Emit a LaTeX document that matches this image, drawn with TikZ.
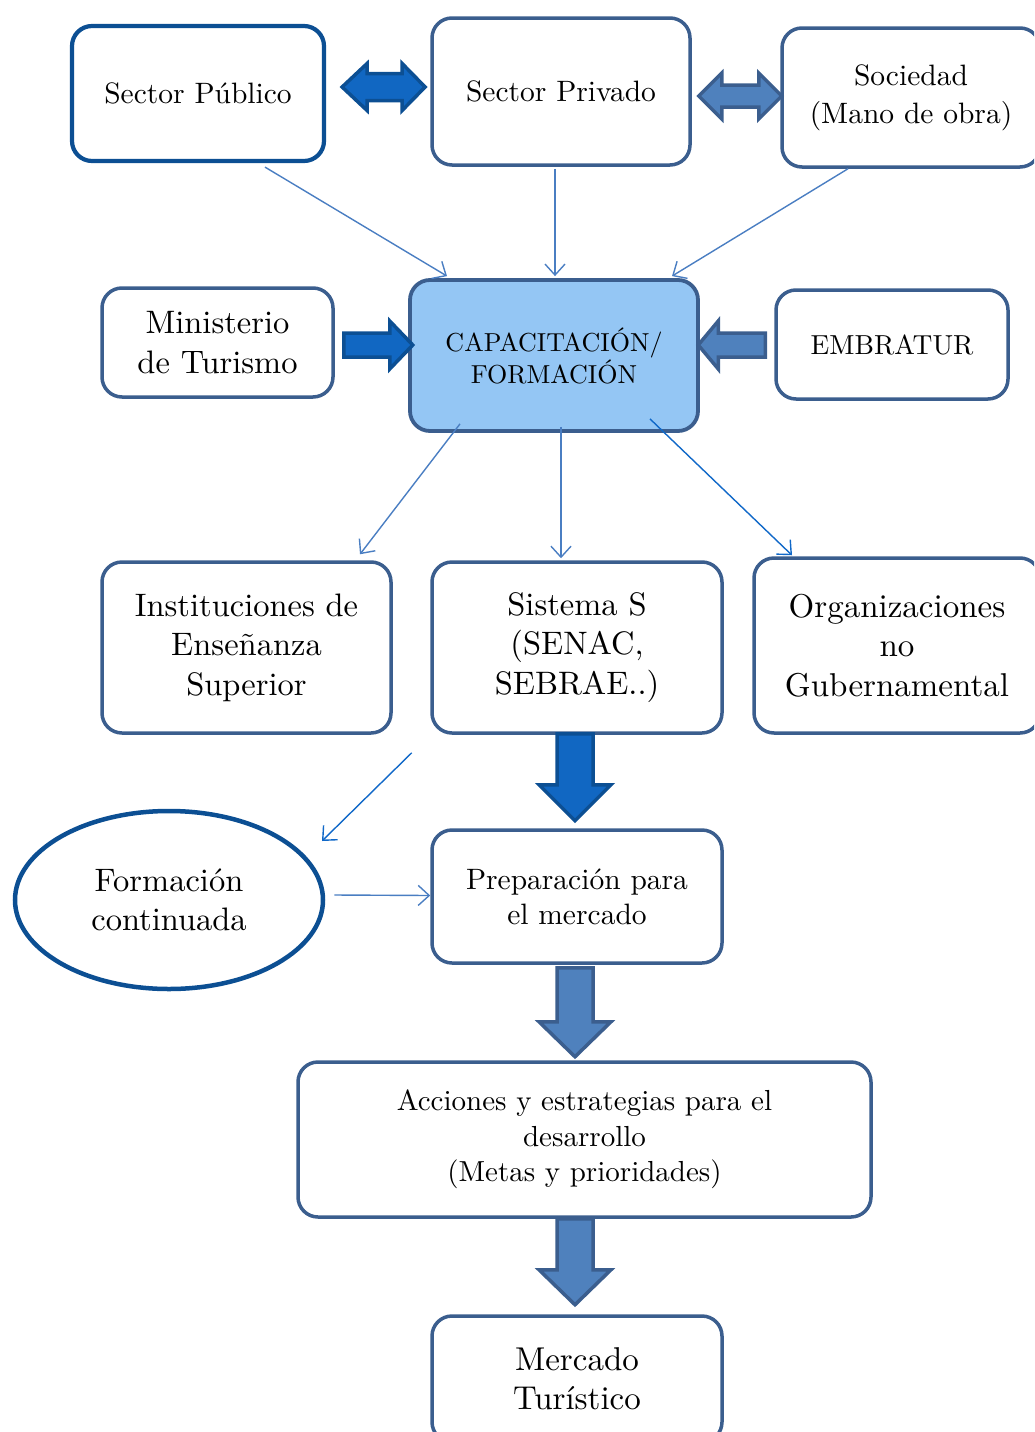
\documentclass[tikz,border=0pt]{standalone}
\usepackage{fontspec}
\setmainfont{lmroman10-regular.otf}
\usetikzlibrary{arrows.meta,shapes.geometric}
\definecolor{boxc}{HTML}{3B5E8E}
\definecolor{darkc}{HTML}{0C4F93}
\definecolor{darkfill}{HTML}{1167C2}
\definecolor{mutedfill}{HTML}{4F81BD}
\definecolor{lightfill}{HTML}{94C6F4}
\definecolor{linec}{HTML}{4A7EC2}
\definecolor{linebright}{HTML}{1068C8}
\tikzset{
  box/.style={draw=boxc, line width=3.5pt, rounded corners=20pt, fill=white,
    align=center, inner sep=0pt, text=black},
  darkbox/.style={box, draw=darkc, line width=4.2pt},
  conn/.style={draw=linec, line width=1.4pt, -{Straight Barb[length=11pt,width=20pt]}},
  connb/.style={conn, draw=linebright},
  darkarrow/.style={draw=darkc, fill=darkfill, line width=3.5pt, line join=miter},
  mutedarrow/.style={draw=boxc, fill=mutedfill, line width=3.5pt, line join=miter},
  fA/.style={font=\fontsize{29.5}{38}\selectfont},
  fB/.style={font=\fontsize{32.5}{39.5}\selectfont},
  fC/.style={font=\fontsize{26}{32}\selectfont},
  fD/.style={font=\fontsize{29}{35.5}\selectfont},
}
\begin{document}
\begin{tikzpicture}[x=1pt,y=-1pt]
\useasboundingbox (0,0) rectangle (1034,1432);
\clip (0,0) rectangle (1034,1432);

% top row
\node[darkbox, fA, minimum width=252pt, minimum height=135pt] (pub) at (198,93.5) {Sector Público};
\node[box, fA, minimum width=258pt, minimum height=147pt] (priv) at (561,91.5) {Sector Privado};
\node[box, fA, minimum width=258pt, minimum height=139pt] (soc) at (911,97.5) {Sociedad\\(Mano de obra)};

% second row
\node[box, fB, minimum width=231pt, minimum height=109pt] (min) at (217.5,342.5) {Ministerio\\de Turismo};
\node[box, fC, fill=lightfill, line width=3.8pt, minimum width=288pt, minimum height=151pt] (cap) at (554,355.5) {CAPACITACIÓN/\\FORMACIÓN};
\node[box, font=\fontsize{27.5}{34}\selectfont, minimum width=232pt, minimum height=109pt] (emb) at (892,344.5) {EMBRATUR};

% third row
\node[box, fB, minimum width=289pt, minimum height=171pt] (inst) at (246.5,647.5) {Instituciones de\\Enseñanza\\Superior};
\node[box, fB, minimum width=290pt, minimum height=171pt] (sis) at (577,647.5) {Sistema S\\(SENAC,\\SEBRAE..)};
\node[box, font=\fontsize{33}{39.5}\selectfont, minimum width=286pt, minimum height=175pt] (org) at (897,645.5) {Organizaciones\\no\\Gubernamental};

% lower part
\node[draw=darkc, line width=4.5pt, ellipse, fB, align=center, inner sep=0pt,
      minimum width=308pt, minimum height=178pt] (ell) at (169,900) {Formación\\continuada};
\node[box, font=\fontsize{29.5}{35}\selectfont, minimum width=290pt, minimum height=133pt] (prep) at (577,896.5) {Preparación para\\el mercado};
\node[box, fD, minimum width=573pt, minimum height=155pt] (acc) at (584.5,1139.5) {Acciones y estrategias para el\\desarrollo\\(Metas y prioridades)};
\node[box, font=\fontsize{33}{39}\selectfont, minimum width=290pt, minimum height=126pt] (merc) at (577,1379) {Mercado\\Turístico};

% thin connectors
\draw[conn] ([shift={(67,4)}]pub.south) -- ([shift={(-107,-2)}]cap.north);
\draw[conn] ([shift={(-6,2)}]priv.south) -- ([shift={(1,-2)}]cap.north);
\draw[conn] ([shift={(-63,0)}]soc.south) -- ([shift={(118,-2)}]cap.north);
\draw[conn] ([shift={(-94,-9)}]cap.south) -- ([shift={(113.5,-6)}]inst.north);
\draw[conn] ([shift={(7,-6)}]cap.south) -- ([shift={(-16,-2)}]sis.north);
\draw[connb] ([shift={(96,-14)}]cap.south) -- ([shift={(-105,-1)}]org.north);
\draw[connb] ([shift={(19,18)}]inst.south east) -- ([shift={(153,-59)}]ell.center);
\draw[conn] ([shift={(9,-5)}]ell.east) -- ([shift={(0,-1)}]prep.west);

% block arrows
\begin{scope}[shift={(pub.east)}]
  \draw[darkarrow] (16,-6.5) -- (41,-30) -- (41,-20) -- (76,-20) -- (76,-30) -- (99,-6.5)
    -- (76,17) -- (76,7) -- (41,7) -- (41,17) -- cycle;
\end{scope}
\begin{scope}[shift={(priv.east)}]
  \draw[mutedarrow] (7,4.5) -- (30,-18.5) -- (30,-6.5) -- (67,-6.5) -- (67,-18.5) -- (90,4.5)
    -- (67,27.5) -- (67,15.5) -- (30,15.5) -- (30,27.5) -- cycle;
\end{scope}
\begin{scope}[shift={(min.east)}]
  \draw[darkarrow] (9,-9.5) -- (55,-9.5) -- (55,-21.5) -- (78,2.5) -- (55,26.5) -- (55,14.5) -- (9,14.5) -- cycle;
\end{scope}
\begin{scope}[shift={(emb.west)}]
  \draw[mutedarrow] (-9,-11.5) -- (-56,-11.5) -- (-56,-23.5) -- (-76,0.5) -- (-56,24.5) -- (-56,12.5) -- (-9,12.5) -- cycle;
\end{scope}
\begin{scope}[shift={(sis.south)}]
  \draw[darkarrow] (-20,-1) -- (-20,50) -- (-38,50) -- (-2,86) -- (34,50) -- (16,50) -- (16,-1) -- cycle;
\end{scope}
\begin{scope}[shift={(prep.south)}]
  \draw[mutedarrow] (-20,3) -- (-20,57) -- (-38,57) -- (-2,92) -- (34,57) -- (16,57) -- (16,3) -- cycle;
\end{scope}
\begin{scope}[shift={(acc.south)}]
  \draw[mutedarrow] (-27.5,0) -- (-27.5,51) -- (-45.5,51) -- (-9.5,86) -- (26.5,51) -- (8.5,51) -- (8.5,0) -- cycle;
\end{scope}
\end{tikzpicture}
\end{document}
